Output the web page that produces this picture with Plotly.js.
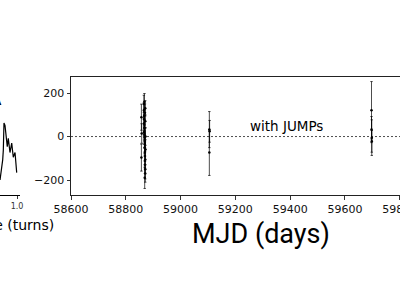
<!DOCTYPE html>
<html>
<head>
<meta charset="utf-8">
<script src="https://cdn.plot.ly/plotly-3.0.1.min.js"></script>
<style>html,body{margin:0;padding:0;background:#fff;}#chart{width:400px;height:300px;}</style>
</head>
<body>
<div id="chart"></div>
<script>
// Pulse profile (visible tail of the left panel)
var profilePhase = [0.717, 0.742, 0.762, 0.772, 0.783, 0.800, 0.817, 0.838, 0.855, 0.883, 0.912, 0.938, 0.967, 0.995];
var profileFlux  = [0.127, 0.21, 0.30, 0.38, 0.61, 0.59, 0.47, 0.41, 0.48, 0.36, 0.44, 0.32, 0.36, 0.19];

// Timing residuals (with JUMPs)
var resMJD = [58866, 58866, 58867, 58867, 58867, 58868, 58868, 58868, 58869, 58869,
              58869, 58869, 58870, 58870, 58870, 58870, 58871, 58871, 58871, 58871,
              58872, 58872, 58868, 58869, 58870, 58867,
              58857, 58857, 58858,
              59105, 59105, 59106,
              59697, 59697, 59698, 59698];
var resVal = [150, 120, 95, 80, 60, 40, 25, 10, -5, -20,
              -35, -50, -70, -90, -110, -130, -150, -170, 130, 70,
              0, -60, 160, -190, 110, 20,
              89, -97, 14,
              32, -74, 24,
              121, 32, -5, -22];
var resErr = [40, 35, 30, 45, 40, 35, 30, 40, 45, 35,
              40, 30, 45, 40, 35, 40, 45, 40, 35, 30,
              40, 45, 38, 49, 40, 35,
              60, 62, 45,
              83, 105, 50,
              132, 60, 82, 50];

var xTickVals = [58600, 58800, 59000, 59200, 59400, 59600, 59800];
var yTickVals = [-200, 0, 200];
var yTickText = ['\u2212200', '0', '200'];

var W = 400, H = 300, T = 77, B = 105;
function px(x) { return x / W; }
function py(y) { return (H - B - y) / (H - T - B); }

var traces = [
  {
    x: profilePhase, y: profileFlux, xaxis: 'x', yaxis: 'y',
    type: 'scatter', mode: 'lines',
    line: {color: '#000', width: 1.2}, hoverinfo: 'skip'
  },
  {
    x: resMJD, y: resVal, xaxis: 'x2', yaxis: 'y2',
    type: 'scatter', mode: 'markers',
    marker: {color: '#000', size: 2.5},
    error_y: {type: 'data', array: resErr, visible: true, color: '#000', thickness: 0.7, width: 1.2}
  }
];

var layout = {
  width: W, height: H,
  margin: {l: 0, r: 0, t: T, b: B, pad: 0},
  paper_bgcolor: '#fff', plot_bgcolor: 'rgba(0,0,0,0)',
  showlegend: false,
  font: {family: 'DejaVu Sans', color: '#000', size: 11},
  xaxis: {
    domain: [0, 0.05], range: [0.7167, 1.05],
    showline: true, linecolor: '#000', linewidth: 1,
    showgrid: false, zeroline: false,
    ticks: 'outside', ticklen: 3, tickwidth: 0.8, tickcolor: '#000',
    tickvals: [1.0], ticktext: ['1.0'],
    tickfont: {size: 8, color: '#333'}
  },
  yaxis: {
    domain: [0, 1], range: [0, 1],
    visible: false
  },
  xaxis2: {
    domain: [71 / W, 1], range: [58600, 59801],
    anchor: 'y2',
    showline: true, mirror: true, linecolor: '#222', linewidth: 1,
    showgrid: false, zeroline: false,
    ticks: 'outside', ticklen: 3.5, tickwidth: 0.8, tickcolor: '#000',
    tickvals: xTickVals, ticktext: xTickVals.map(String),
    ticklabeloverflow: 'allow',
    tickfont: {size: 11, color: '#111'}
  },
  yaxis2: {
    domain: [0, 1], range: [-269, 274],
    anchor: 'x2',
    showline: true, mirror: false, linecolor: '#222', linewidth: 1,
    showgrid: false, zeroline: false,
    ticks: 'outside', ticklen: 3.5, tickwidth: 0.8, tickcolor: '#000',
    tickvals: yTickVals, ticktext: yTickText,
    tickfont: {size: 11, color: '#111'}
  },
  shapes: [
    {type: 'line', xref: 'x2 domain', yref: 'y2', x0: 0, x1: 1, y0: 0, y1: 0,
     line: {color: '#000', width: 0.7, dash: '2px,2px'}, layer: 'below'}
  ],
  annotations: [
    {text: 'with JUMPs', xref: 'x2', yref: 'y2', x: 59387, y: 50,
     showarrow: false, xanchor: 'center', yanchor: 'middle',
     font: {family: 'DejaVu Sans', size: 13.5, color: '#000'}},
    {text: 'MJD (days)', xref: 'paper', yref: 'paper', x: px(261), y: py(234),
     showarrow: false, xanchor: 'center', yanchor: 'middle',
     font: {family: 'Roboto', size: 27, color: '#000'}},
    {text: 'Phase (turns)', xref: 'paper', yref: 'paper', x: px(56), y: py(225),
     showarrow: false, xanchor: 'right', yanchor: 'middle',
     font: {family: 'DejaVu Sans', size: 14, color: '#000'}},
    {text: '<b>A</b>', xref: 'paper', yref: 'paper', x: px(4), y: py(101),
     showarrow: false, xanchor: 'right', yanchor: 'middle',
     font: {family: 'DejaVu Sans', size: 12, color: '#000'}}
  ]
};

Plotly.newPlot('chart', traces, layout, {staticPlot: true, displayModeBar: false});
</script>
</body>
</html>
